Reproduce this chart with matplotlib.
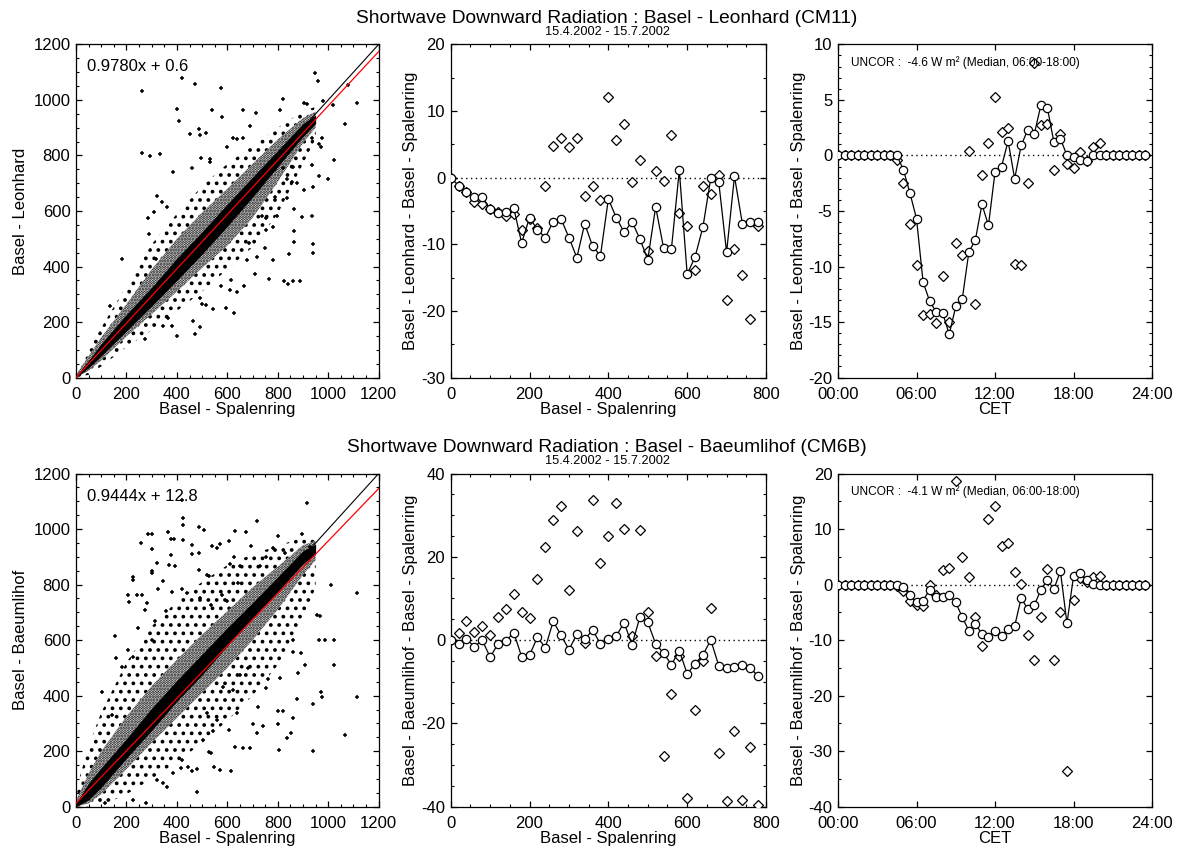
import numpy as np
import matplotlib.pyplot as plt
from matplotlib.ticker import MultipleLocator, FuncFormatter

plt.rcParams['font.family'] = ['Liberation Sans', 'DejaVu Sans']
plt.rcParams['axes.unicode_minus'] = False
plt.rcParams['hatch.linewidth'] = 1.5
plt.rcParams['hatch.color'] = 'black'

env_x = [0, 50, 100, 200, 300, 400, 500, 600, 700, 800, 900, 950]

leo_core_lo = [0, 35, 78, 168, 258, 350, 445, 545, 650, 760, 868, 915]
leo_core_hi = [6, 62, 122, 228, 325, 430, 525, 625, 722, 818, 915, 945]
leo_mid_lo = [0, 25, 62, 148, 228, 310, 395, 475, 575, 705, 845, 900]
leo_mid_hi = [10, 78, 145, 265, 390, 500, 595, 680, 770, 858, 935, 958]
leo_out_lo = [0, 10, 40, 110, 170, 240, 310, 390, 470, 590, 770, 860]
leo_out_hi = [20, 100, 180, 330, 480, 590, 690, 770, 835, 900, 960, 975]

leo_pts_x = [260, 420, 472, 576, 947, 961, 1080, 1115, 400, 407, 540, 578, 450, 488, 490, 515,
             263, 293, 333, 385, 459, 494, 531, 531, 320, 309, 361, 340, 182, 133, 284, 290, 319,
             637, 621, 597, 661, 690, 714, 663, 809, 822, 905, 914, 978, 1018, 1065, 1024, 1000,
             965, 937, 904, 897, 937, 864, 865, 864, 940, 940, 843, 823, 842, 859, 888, 767, 780,
             710, 718, 749, 685, 679, 665, 637, 628, 593, 616, 574, 545, 492, 465, 472, 400, 365,
             381, 345, 274, 514, 498, 490, 609, 781, 755, 752, 736, 796, 789, 838, 838, 855, 878,
             822, 790, 859, 941, 963, 970, 936, 976]
leo_pts_y = [1033, 1080, 1058, 1042, 1096, 1068, 1052, 990, 966, 924, 962, 940, 876, 896, 875, 882,
             809, 797, 806, 742, 755, 792, 788, 775, 654, 595, 616, 634, 428, 256, 574, 517, 427,
             860, 864, 830, 861, 907, 952, 962, 964, 1004, 990, 985, 997, 982, 912, 785, 714,
             727, 766, 676, 580, 582, 607, 529, 487, 482, 448, 445, 348, 336, 348, 348, 356, 425,
             374, 436, 467, 484, 424, 328, 308, 234, 251, 352, 330, 247, 181, 205, 157, 150, 215,
             186, 185, 138, 260, 264, 286, 317, 544, 532, 574, 582, 582, 652, 647, 716, 706, 700,
             755, 750, 757, 688, 841, 832, 864, 862]

bae_core_lo = [0, 25, 70, 175, 275, 380, 475, 580, 680, 775, 875, 910]
bae_core_hi = [12, 85, 140, 245, 355, 455, 550, 645, 735, 828, 922, 945]
bae_mid_lo = [0, 12, 45, 135, 230, 320, 410, 500, 600, 710, 835, 888]
bae_mid_hi = [22, 120, 200, 325, 435, 530, 620, 705, 790, 865, 942, 958]
bae_out_lo = [0, 0, 5, 45, 100, 160, 230, 310, 400, 510, 680, 790]
bae_out_hi = [60, 220, 340, 520, 650, 740, 810, 870, 910, 940, 970, 978]

bae_pts_x = [419, 915, 423, 423, 716, 486, 509, 629, 672, 285, 300, 303, 258, 365, 377, 390, 424,
             460, 605, 571, 540, 802, 895, 928, 300, 300, 227, 227, 320, 346, 375, 369, 392, 459,
             486, 489, 518, 529, 492, 422, 439, 379, 325, 280, 207, 211, 243, 262, 275, 315, 357,
             300, 247, 207, 159, 155, 181, 225, 102, 141, 558, 611, 628, 650, 693, 728, 752, 782,
             829, 644, 597, 534, 579,
             1113, 1011, 1024, 1024, 1114, 1067, 941, 971, 976, 938, 963, 988, 954, 967, 907, 878,
             862, 851, 838, 804, 800, 822, 802, 879, 809, 862, 891, 862, 753, 763, 723, 741, 716,
             703, 690, 663, 630, 615, 571, 548, 529, 534, 481, 461, 443, 478, 359, 344, 320, 386,
             419, 415, 544, 558, 608, 638, 624, 682, 650, 584, 518, 505, 227, 276, 116]
bae_pts_y = [1105, 1093, 1040, 1015, 1028, 1009, 995, 994, 991, 981, 981, 927, 950, 991, 963, 963,
             959, 941, 957, 945, 939, 976, 981, 936, 849, 843, 829, 815, 879, 812, 905, 869, 868,
             911, 915, 852, 834, 830, 752, 785, 768, 773, 785, 734, 764, 737, 764, 764, 708, 668,
             704, 599, 642, 566, 536, 616, 503, 539, 415, 331, 933, 873, 899, 867, 939, 867, 899,
             933, 915, 804, 740, 728, 764,
             768, 798, 602, 509, 397, 259, 199, 415, 397, 370, 602, 599, 692, 686, 512, 388,
             321, 267, 249, 205, 297, 345, 345, 481, 463, 557, 554, 602, 427, 460, 359, 289, 265,
             297, 213, 211, 214, 130, 132, 144, 196, 195, 135, 130, 142, 54, 72, 84, 96, 120,
             169, 138, 271, 313, 277, 337, 421, 500, 475, 433, 337, 241, 24, 14, 14]

fit_leo = (0.9780, 0.6)
fit_bae = (0.9444, 12.8)

# ---- binned differences vs Spalenring radiation ----
bins_w = [0, 20, 40, 60, 80, 100, 120, 140, 160, 180, 200, 220, 240, 260, 280, 300, 320, 340,
          360, 380, 400, 420, 440, 460, 480, 500, 520, 540, 560, 580, 600, 620, 640, 660, 680,
          700, 720, 740, 760, 780]
leo_bin_cor = [0, -1.2, -2.1, -2.9, -2.9, -4.7, -5.3, -5.2, -4.6, -9.8, -6.0, -7.8, -9.0, -6.6,
               -6.2, -9.0, -12.0, -6.9, -10.3, -11.7, -3.2, -6.0, -8.2, -6.6, -9.2, -12.3, -4.4,
               -10.5, -10.7, 1.1, -14.5, -11.9, -7.4, 0.0, -0.6, -11.2, 0.2, -6.9, -6.7, -6.6]
leo_bin_unc = [0, -1.2, -2.1, -3.6, -3.9, -4.7, -5.2, -5.7, -5.4, -7.8, -6.2, -7.6, -1.3, 4.8,
               6.0, 4.6, 6.0, -2.8, -1.3, -3.3, 12.1, 5.7, 8.1, -0.7, 2.6, -11.0, 1.0, -0.5, 6.4,
               -5.3, -7.2, -13.9, -1.3, -2.5, 0.4, -18.4, -10.7, -14.6, -21.2, -7.3]
bae_bin_cor = [0, -0.9, 0.3, -1.6, 0, -4.1, -0.9, -0.2, 1.8, -4.0, -3.6, 0.7, -1.8, 4.5, 1.2,
               -2.3, 1.4, 0.2, 2.4, -0.9, 0.2, 1.0, 4.2, -1.1, 5.5, 4.3, -0.9, -3.1, -5.9, -2.5,
               -8.1, -5.7, -3.5, 0, -6.1, -6.6, -6.5, -5.9, -6.6, -8.7]
bae_bin_unc = [0, 1.6, 4.6, 2.0, 3.4, 1.3, 5.6, 7.5, 11.1, 6.7, 5.3, 14.7, 22.4, 28.9, 32.3,
               12.1, 26.2, -0.7, 33.7, 18.4, 25.1, 33.0, 26.8, 0.9, 26.4, 6.7, -3.8, -27.8, -12.9,
               -3.9, -37.8, -16.7, -5.1, 7.7, -27.1, -38.6, -21.7, -38.5, -25.6, -39.6]

# ---- half-hourly differences (CET) ----
hours = [0.0, 0.5, 1.0, 1.5, 2.0, 2.5, 3.0, 3.5, 4.0, 4.5, 5.0, 5.5, 6.0, 6.5, 7.0, 7.5, 8.0,
         8.5, 9.0, 9.5, 10.0, 10.5, 11.0, 11.5, 12.0, 12.5, 13.0, 13.5, 14.0, 14.5, 15.0, 15.5,
         16.0, 16.5, 17.0, 17.5, 18.0, 18.5, 19.0, 19.5, 20.0, 20.5, 21.0, 21.5, 22.0, 22.5,
         23.0, 23.5]
leo_day_cor = [0, 0, 0, 0, 0, 0, 0, 0, 0, 0,
               -1.3, -3.4, -5.7, -11.4, -13.1, -14.1, -14.2, -16.1, -13.6, -12.9, -8.7, -7.6,
               -4.4, -6.3, -1.5, -1.0, 1.3, -2.1, 0.9, 2.3, 1.9, 4.5, 4.3, 1.2, 1.5, 0, -0.1,
               -0.4, -0.5, 0,
               0, 0, 0, 0, 0, 0, 0, 0]
leo_day_unc = [0, 0, 0, 0, 0, 0, 0, 0, 0, -0.4,
               -2.5, -6.2, -9.9, -14.4, -14.3, -15.1, -10.9, -15.0, -7.9, -9.0, 0.4, -13.4,
               -1.8, 1.1, 5.3, 2.1, 2.5, -9.8, -9.9, -2.5, 8.3, 2.7, 2.8, -1.3, 1.9, -0.8, -1.1,
               0.3, -0.5, 0.8,
               1.1, 0, 0, 0, 0, 0, 0, 0]
bae_day_cor = [0, 0, 0, 0, 0, 0, 0, 0, 0, 0,
               -0.5, -1.9, -3.2, -2.9, -0.9, -2.2, -2.3, -1.9, -3.2, -5.9, -8.3, -7.1, -8.9,
               -9.4, -8.3, -9.2, -8.0, -7.5, -2.4, -4.4, -3.7, -1.0, 0.8, -0.8, 2.4, -7.0, 1.5,
               2.0, 0.8, 0.1,
               0, 0, 0, 0, 0, 0, 0, 0]
bae_day_unc = [0, 0, 0, 0, 0, 0, 0, 0, 0, -0.3,
               -1.2, -2.9, -3.6, -3.8, 0.0, -1.8, 2.7, 3.0, 18.6, 5.0, 1.3, -5.9, -11.0, 11.8,
               14.1, 7.0, 7.5, 2.3, 0.1, -9.1, -13.6, -5.8, 2.8, -13.5, -5.0, -33.5, -2.7, 1.2,
               0.5, 1.3,
               1.6, 0, 0, 0, 0, 0, 0, 0]


def style(ax, xmaj, xmin, ymaj, ymin):
    ax.xaxis.set_major_locator(MultipleLocator(xmaj))
    ax.yaxis.set_major_locator(MultipleLocator(ymaj))
    if xmin:
        ax.xaxis.set_minor_locator(MultipleLocator(xmin))
    if ymin:
        ax.yaxis.set_minor_locator(MultipleLocator(ymin))
    ax.tick_params(which='both', direction='in', top=True, right=True, labelsize=12)
    ax.tick_params(axis='x', pad=7)
    ax.tick_params(axis='y', pad=4)
    ax.tick_params(which='major', length=4.5, width=0.9)
    ax.tick_params(which='minor', length=2.3, width=0.8)
    for s in ax.spines.values():
        s.set_linewidth(0.9)


def scatter_panel(ax, zones, px, py, fit, ylabel, eq):
    out_lo, out_hi, mid_lo, mid_hi, core_lo, core_hi = zones
    # sparse and dense stipple, then the solid core of overlapping points
    ax.fill_between(env_x, out_lo, out_hi, facecolor='none', edgecolor='black', hatch='..',
                    lw=0, zorder=1)
    ax.fill_between(env_x, mid_lo, mid_hi, facecolor='white', edgecolor='black', hatch='......',
                    lw=0, zorder=1.5)
    ax.fill_between(env_x, core_lo, core_hi, color='black', lw=0, zorder=2)
    ax.plot(px, py, ls='none', marker='+', ms=3, mew=1.1, color='black', zorder=3)
    line = np.array([0, 1200])
    ax.plot(line, line, color='black', lw=0.8, zorder=4)
    ax.plot(line, fit[0] * line + fit[1], color='red', lw=0.9, zorder=5)
    ax.set_xlim(0, 1200)
    ax.set_ylim(0, 1200)
    style(ax, 200, 50, 200, 50)
    ax.set_xlabel('Basel - Spalenring', fontsize=12, labelpad=0)
    ax.set_ylabel(ylabel, fontsize=12, labelpad=4)
    ax.text(0.035, 0.955, eq, transform=ax.transAxes, fontsize=12, va='top')


def diff_panel(ax, x, cor, unc, ylim, ylabel):
    ax.plot(x, unc, ls='none', marker='D', ms=5.5, mfc='white', mec='black', mew=0.9, zorder=3)
    ax.plot(x, cor, color='black', lw=0.9, marker='o', ms=6, mfc='white', mec='black',
            mew=0.9, zorder=4)
    ax.axhline(0, color='black', ls=(0, (1, 2.5)), lw=1, zorder=1)
    ax.set_ylim(*ylim)
    ax.set_ylabel(ylabel, fontsize=12, labelpad=2)
    ax.yaxis.set_major_formatter(FuncFormatter(lambda v, p: '%d' % round(v)))


fig = plt.figure(figsize=(11.79, 8.5), dpi=100)

rows = [0.5558, 0.0509]
cols = [(0.0645, 0.2567), (0.3823, 0.2674), (0.7108, 0.2663)]
h = 0.3920

panels = [
    ('Leonhard', 'CM11', fit_leo,
     (leo_out_lo, leo_out_hi, leo_mid_lo, leo_mid_hi, leo_core_lo, leo_core_hi),
     leo_pts_x, leo_pts_y, leo_bin_cor, leo_bin_unc, leo_day_cor, leo_day_unc,
     (-30, 20), (10, 5), (-20, 10), (5, 1), '-4.6'),
    ('Baeumlihof', 'CM6B', fit_bae,
     (bae_out_lo, bae_out_hi, bae_mid_lo, bae_mid_hi, bae_core_lo, bae_core_hi),
     bae_pts_x, bae_pts_y, bae_bin_cor, bae_bin_unc, bae_day_cor, bae_day_unc,
     (-40, 40), (20, 5), (-40, 20), (10, 5), '-4.1'),
]

for r, (site, inst, fit, zones, px, py, bc, bu, dc, du,
        bylim, byt, dylim, dyt, unc_txt) in enumerate(panels):
    y0 = rows[r]
    ax1 = fig.add_axes([cols[0][0], y0, cols[0][1], h])
    ax2 = fig.add_axes([cols[1][0], y0, cols[1][1], h])
    ax3 = fig.add_axes([cols[2][0], y0, cols[2][1], h])

    eq = '%.4fx + %.1f' % fit
    scatter_panel(ax1, zones, px, py, fit, 'Basel - ' + site, eq)

    ylab = 'Basel - %s - Basel - Spalenring' % site
    diff_panel(ax2, bins_w, bc, bu, bylim, ylab)
    ax2.set_xlim(0, 800)
    style(ax2, 200, 50, byt[0], byt[1])
    ax2.set_xlabel('Basel - Spalenring', fontsize=12, labelpad=0)

    diff_panel(ax3, hours, dc, du, dylim, ylab)
    ax3.set_xlim(0, 24)
    style(ax3, 6, None, dyt[0], dyt[1])
    ax3.set_xticks([0, 6, 12, 18, 24])
    ax3.set_xticklabels(['00:00', '06:00', '12:00', '18:00', '24:00'])
    ax3.set_xlabel('CET', fontsize=12, labelpad=0)
    ax3.text(0.042, 0.945, 'UNCOR :  %s W m\u00b2 (Median, 06:00-18:00)' % unc_txt,
             transform=ax3.transAxes, fontsize=8.6, va='center')

    top = y0 + h
    fig.text(0.515, top + 0.031, 'Shortwave Downward Radiation : Basel - %s (%s)' % (site, inst),
             ha='center', va='center', fontsize=13.8)
    fig.text(0.515, top + 0.015, '15.4.2002 - 15.7.2002', ha='center', va='center', fontsize=9.2)

fig.savefig('out.png', dpi=100)
